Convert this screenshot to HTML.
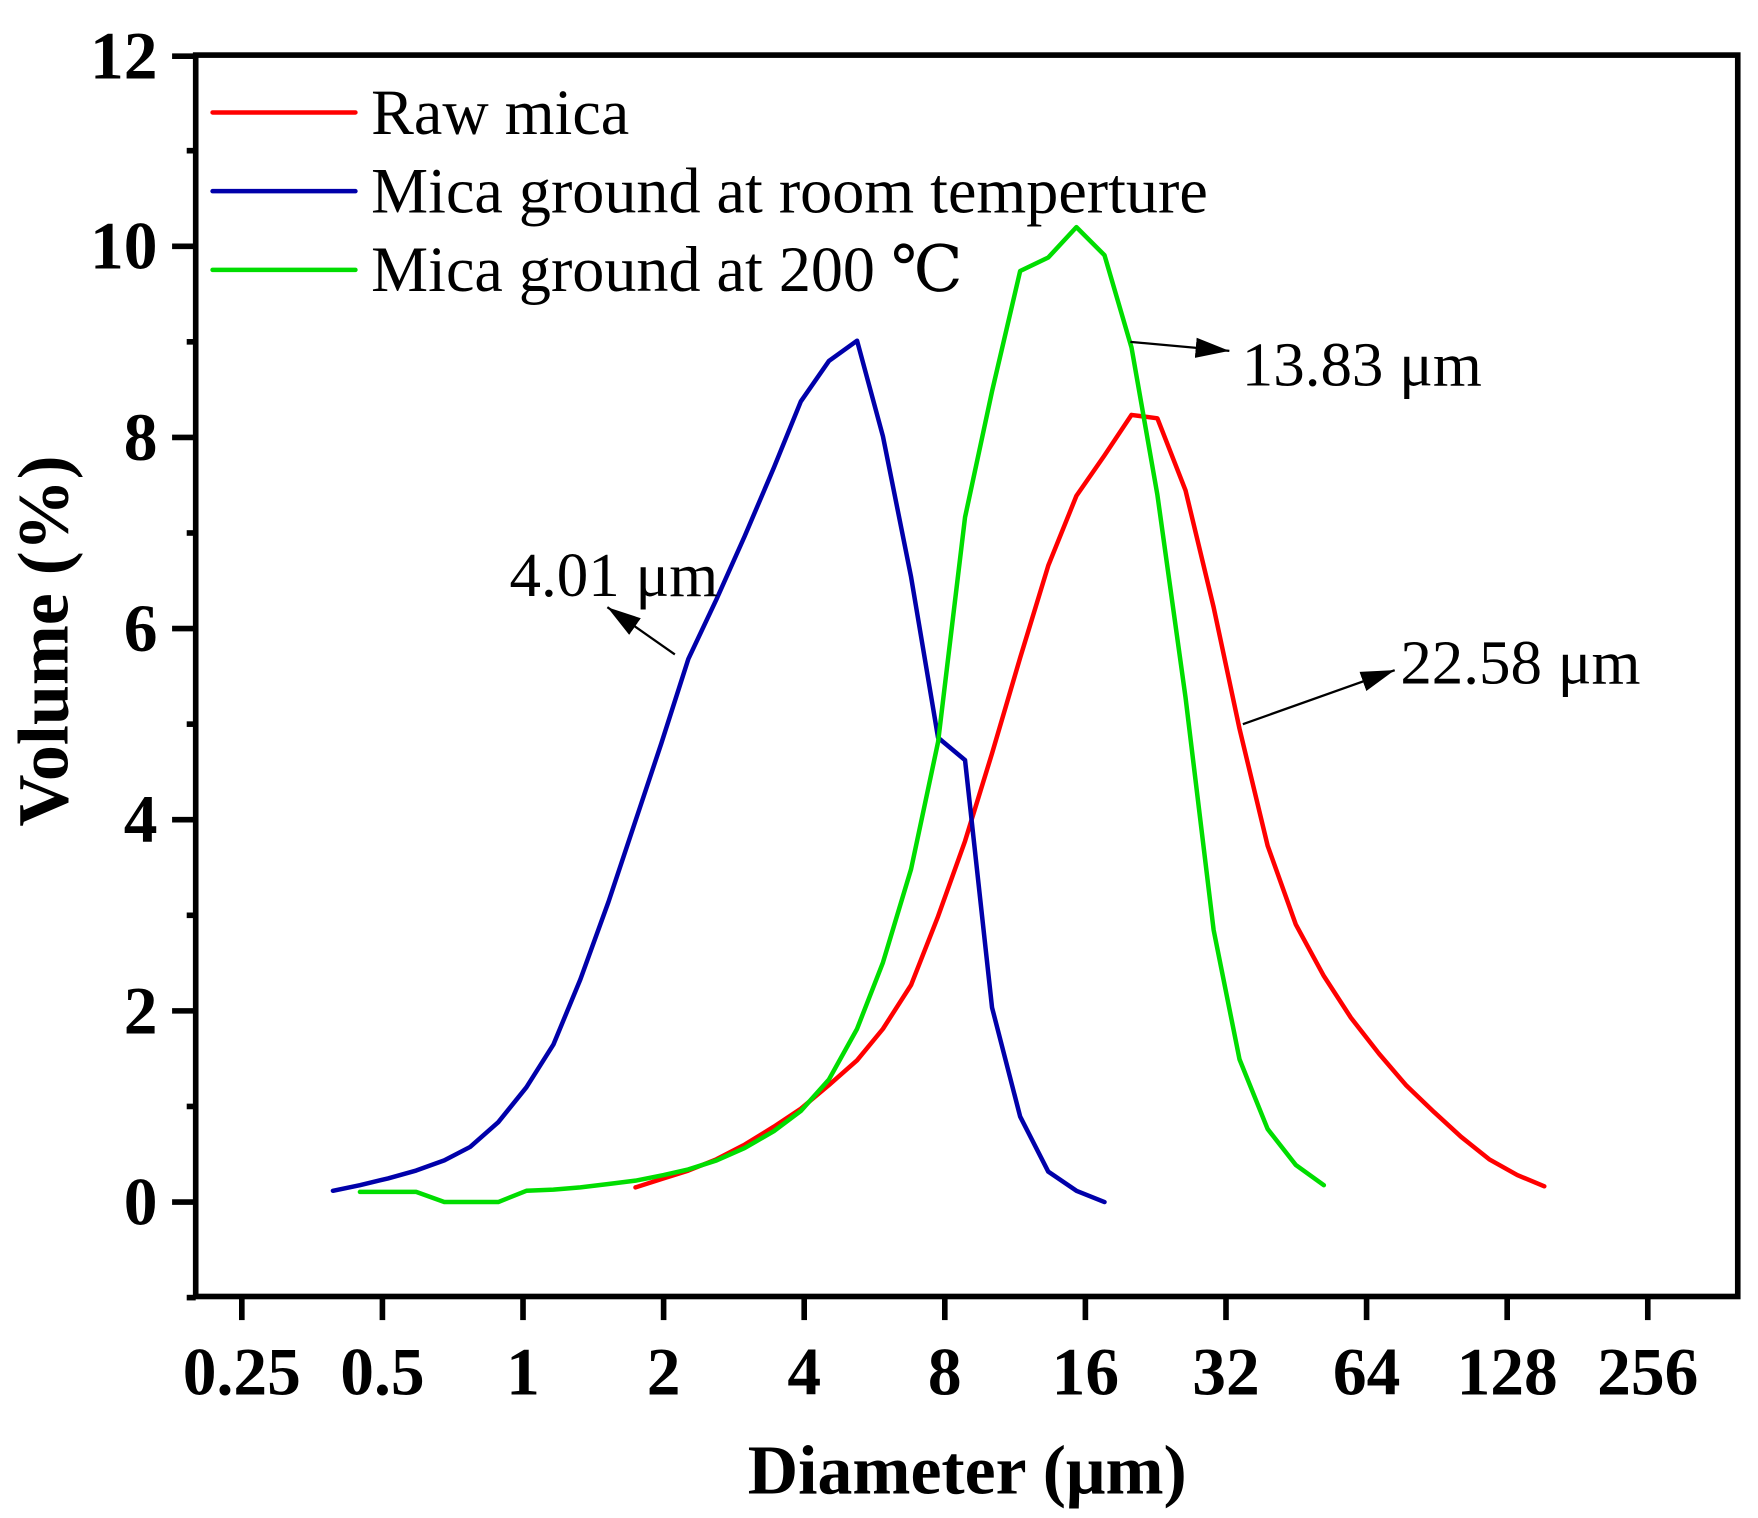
<!DOCTYPE html>
<html><head><meta charset="utf-8"><style>
html,body{margin:0;padding:0;background:#fff;}
svg{display:block;}
text{font-family:"Liberation Serif","DejaVu Serif",serif;}
</style></head><body>
<svg width="1758" height="1518" viewBox="0 0 1563 1350" preserveAspectRatio="none" xmlns="http://www.w3.org/2000/svg">
<defs>
<marker id="a2" markerWidth="32" markerHeight="20" refX="30" refY="10" orient="auto" markerUnits="userSpaceOnUse"><path d="M0,1 L30,10 L0,19 Z" fill="#000"/></marker></defs>
<rect x="174" y="49" width="1371" height="1104" fill="none" stroke="#000" stroke-width="5"/>
<g stroke="#000" stroke-width="5">
<line x1="153" y1="50" x2="174" y2="50"/><line x1="153" y1="219" x2="174" y2="219"/><line x1="153" y1="389" x2="174" y2="389"/><line x1="153" y1="559" x2="174" y2="559"/><line x1="153" y1="729" x2="174" y2="729"/><line x1="153" y1="899" x2="174" y2="899"/><line x1="153" y1="1069" x2="174" y2="1069"/>
<line x1="166" y1="134" x2="174" y2="134"/><line x1="166" y1="304" x2="174" y2="304"/><line x1="166" y1="474" x2="174" y2="474"/><line x1="166" y1="644" x2="174" y2="644"/><line x1="166" y1="814" x2="174" y2="814"/><line x1="166" y1="984" x2="174" y2="984"/><line x1="166" y1="1154" x2="174" y2="1154"/>
<line x1="215" y1="1153" x2="215" y2="1174"/><line x1="340" y1="1153" x2="340" y2="1174"/><line x1="465" y1="1153" x2="465" y2="1174"/><line x1="590" y1="1153" x2="590" y2="1174"/><line x1="715" y1="1153" x2="715" y2="1174"/><line x1="840" y1="1153" x2="840" y2="1174"/><line x1="965" y1="1153" x2="965" y2="1174"/><line x1="1090" y1="1153" x2="1090" y2="1174"/><line x1="1215" y1="1153" x2="1215" y2="1174"/><line x1="1340" y1="1153" x2="1340" y2="1174"/><line x1="1465" y1="1153" x2="1465" y2="1174"/>
</g>
<g font-size="60" font-weight="bold" text-anchor="end">
<text x="140" y="70">12</text><text x="140" y="239">10</text><text x="140" y="409">8</text><text x="140" y="579">6</text><text x="140" y="749">4</text><text x="140" y="919">2</text><text x="140" y="1089">0</text>
</g>
<g font-size="60" font-weight="bold" text-anchor="middle">
<text x="215" y="1240">0.25</text><text x="340" y="1240">0.5</text><text x="465" y="1240">1</text><text x="590" y="1240">2</text><text x="715" y="1240">4</text><text x="840" y="1240">8</text><text x="965" y="1240">16</text><text x="1090" y="1240">32</text><text x="1215" y="1240">64</text><text x="1340" y="1240">128</text><text x="1465" y="1240">256</text>
</g>
<text x="860" y="1328" font-size="62" font-weight="bold" text-anchor="middle">Diameter (μm)</text>
<text transform="translate(60,570) rotate(-90)" font-size="64" font-weight="bold" text-anchor="middle">Volume (%)</text>
<g fill="none" stroke-width="4" stroke-linejoin="round" stroke-linecap="round">
<polyline stroke="#ff0000" points="565,1056 590,1048 612,1041 637,1031 662,1018 688,1002 712,986 737,965 762,943 785,915 810,876 834,815 858,748 882,670 907,585 932,503 957,441 982,405 1006,369 1029,372 1054,436 1079,540 1102,648 1127,752 1152,822 1177,868 1201,905 1226,937 1250,965 1275,989 1299,1011 1324,1031 1349,1045 1373,1055"/>
<polyline stroke="#0000aa" points="296,1059 320,1054 345,1048 370,1041 395,1032 418,1020 443,998 468,967 492,929 516,871 541,802 565,730 588,661 612,586 637,533 662,477 688,416 712,357 737,321 762,303 785,388 810,513 834,656 858,676 882,896 907,993 932,1042 957,1059 982,1069"/>
<polyline stroke="#00dd00" points="320,1060 345,1060 370,1060 395,1069 418,1069 443,1069 468,1059 492,1058 516,1056 541,1053 565,1050 590,1045 612,1040 637,1032 662,1021 688,1006 712,988 737,960 762,915 785,856 810,773 834,660 858,460 882,348 907,241 932,229 957,202 982,227 1006,309 1029,440 1054,620 1079,827 1102,942 1127,1004 1152,1036 1177,1054"/>
</g>
<g stroke-width="4" stroke-linecap="round">
<line x1="189" y1="100" x2="316" y2="100" stroke="#ff0000"/>
<line x1="189" y1="170" x2="316" y2="170" stroke="#0000aa"/>
<line x1="189" y1="240" x2="316" y2="240" stroke="#00dd00"/>
</g>
<g font-size="57">
<text x="330" y="119">Raw mica</text>
<text x="330" y="189">Mica ground at room temperture</text>
<text x="330" y="259">Mica ground at 200 ℃</text>
</g>
<g stroke="#000" stroke-width="2">
<line x1="1005" y1="304" x2="1093" y2="312" marker-end="url(#a2)"/>
<line x1="600" y1="582" x2="540" y2="540" marker-end="url(#a2)"/>
<line x1="1105" y1="644" x2="1240" y2="596" marker-end="url(#a2)"/>
</g>
<g font-size="56">
<text x="1104" y="343">13.83 μm</text>
<text x="453" y="530">4.01 μm</text>
<text x="1245" y="608">22.58 μm</text>
</g>
</svg>
</body></html>
